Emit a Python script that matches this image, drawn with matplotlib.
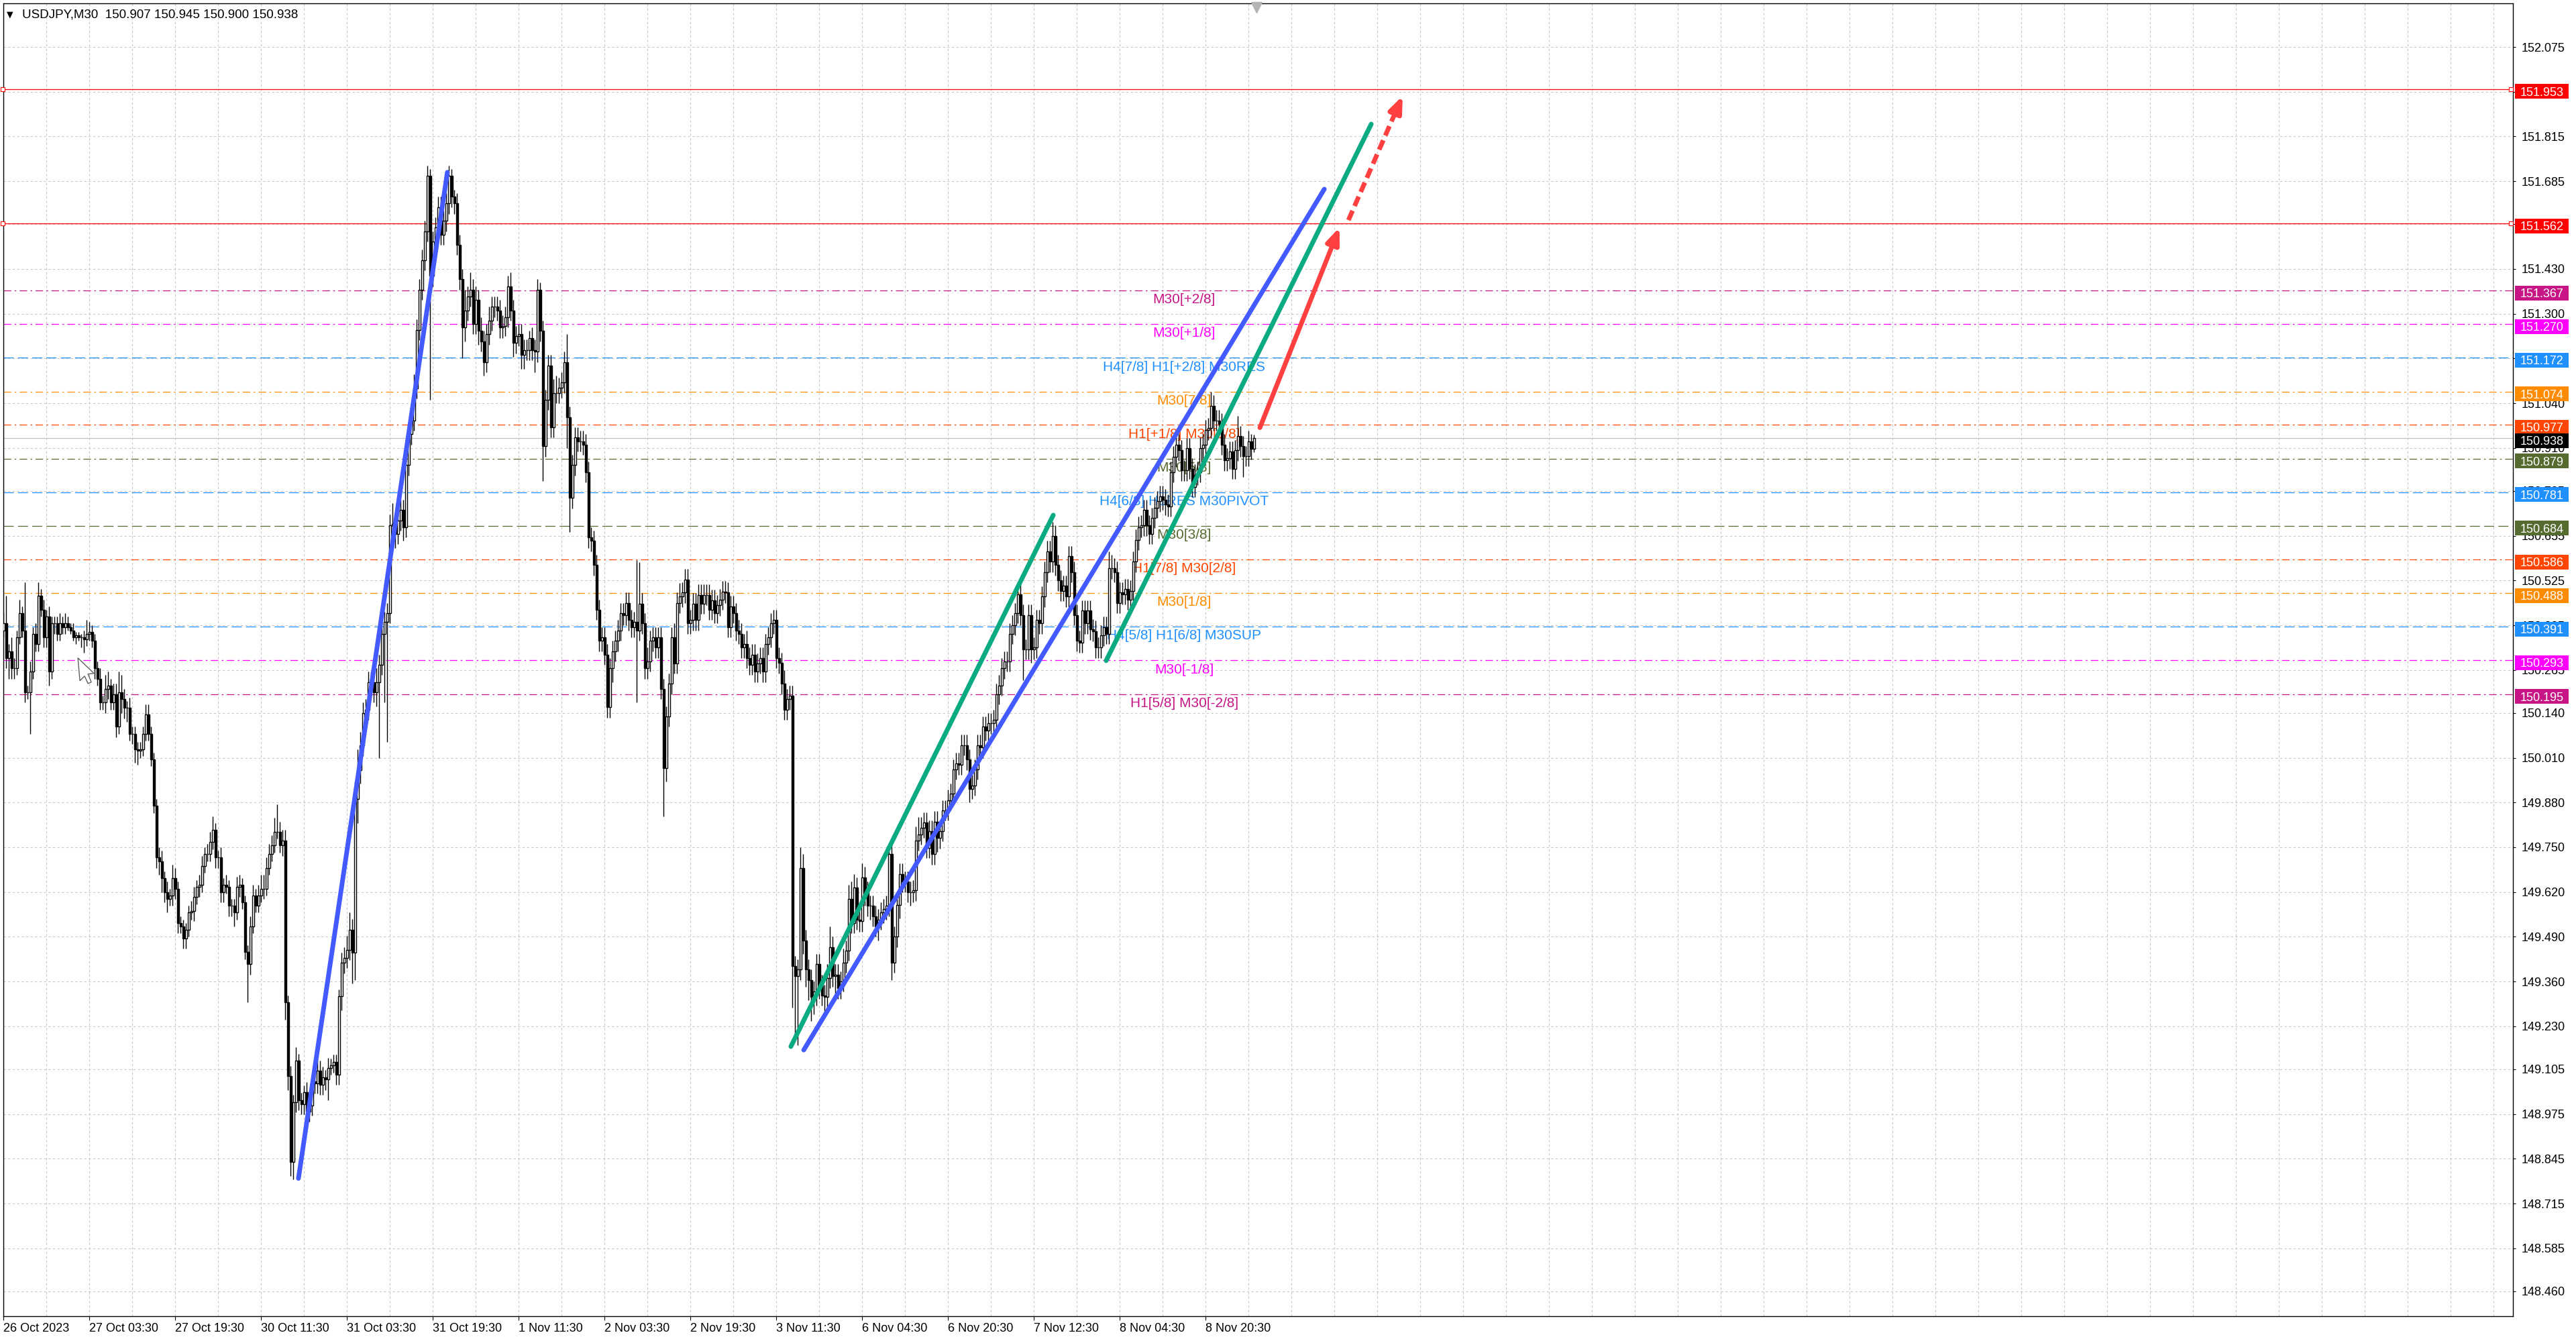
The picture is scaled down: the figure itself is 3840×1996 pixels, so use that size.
import numpy as np
import matplotlib
matplotlib.use('Agg')
import matplotlib.pyplot as plt
from matplotlib.transforms import blended_transform_factory, offset_copy
from matplotlib.patches import Rectangle, Polygon

plt.rcParams['font.family'] = ['Liberation Sans', 'DejaVu Sans']

# USDJPY M30 closes (bars 0..466)
closes_a = [
    150.40, 150.30, 150.32, 150.27, 150.27, 150.36, 150.43, 150.38, 150.20, 150.20,
    150.26, 150.37, 150.34, 150.48, 150.44, 150.36, 150.42, 150.26, 150.40, 150.40,
    150.37, 150.40, 150.39, 150.40, 150.39, 150.38, 150.36, 150.365, 150.36, 150.36,
    150.355, 150.37, 150.375, 150.35, 150.27, 150.24, 150.17, 150.17, 150.21, 150.22,
    150.17, 150.195, 150.10, 150.20, 150.18, 150.155, 150.155, 150.08, 150.08, 150.035,
    150.03, 150.035, 150.08, 150.135, 150.08, 150.005, 149.87, 149.72, 149.71, 149.66,
    149.62, 149.60, 149.61, 149.66, 149.63, 149.53, 149.52, 149.485, 149.51, 149.56,
    149.565, 149.605, 149.635, 149.64, 149.695, 149.73, 149.73, 149.765, 149.80, 149.72,
    149.72, 149.62, 149.64, 149.635, 149.58, 149.58, 149.56, 149.635, 149.64, 149.59,
    149.445, 149.41, 149.52, 149.61, 149.58, 149.61, 149.63, 149.63, 149.69, 149.73,
    149.755, 149.795, 149.795, 149.755, 149.77, 149.30, 149.085, 148.835, 149.01, 149.13,
    149.016, 149.004, 149.038, 148.982, 149.00, 149.07, 149.064, 149.101, 149.06, 149.082,
    149.075, 149.109, 149.116, 149.127, 149.09, 149.317, 149.414, 149.429, 149.452, 149.511, 149.444,
]
closes_b = [
    149.89, 149.975, 150.046, 150.14, 150.15, 150.23, 150.23, 150.20, 150.23, 150.28,
    150.37, 150.405, 150.43, 150.686, 150.69, 150.66, 150.70, 150.73, 150.68, 150.86,
    150.95, 150.99, 151.084, 151.253, 151.37, 151.456, 151.54, 151.70, 151.41, 151.51,
    151.55, 151.61, 151.53, 151.57, 151.62, 151.70, 151.64, 151.62, 151.50, 151.40,
    151.26, 151.31, 151.35, 151.37, 151.27, 151.34, 151.25, 151.22, 151.16, 151.24,
    151.28, 151.32, 151.32, 151.31, 151.26, 151.265, 151.29, 151.38, 151.31, 151.215,
    151.235, 151.24, 151.18, 151.195, 151.195, 151.23, 151.195, 151.19, 151.37, 151.25,
    150.915, 151.05, 151.15, 150.97, 151.07, 151.07, 151.085, 151.10, 151.16, 151.00,
    150.765, 150.86, 150.94, 150.93, 150.93, 150.92, 150.84, 150.65, 150.64, 150.57,
    150.44, 150.35, 150.36, 150.31, 150.157, 150.27, 150.32, 150.35, 150.38, 150.43,
    150.425, 150.46, 150.41, 150.39, 150.405, 150.38,
]
closes_c = [
    150.458, 150.40, 150.27, 150.29, 150.35, 150.36, 150.33, 150.36, 150.21, 149.98,
    150.13, 150.225, 150.36, 150.284, 150.46, 150.478, 150.49, 150.528, 150.40, 150.41,
    150.458, 150.41, 150.483, 150.458, 150.483, 150.483, 150.44, 150.468, 150.43, 150.453,
    150.47, 150.493, 150.49, 150.39, 150.45, 150.43, 150.38, 150.37, 150.33, 150.34,
    150.30, 150.28, 150.31, 150.26, 150.284, 150.30, 150.26, 150.34, 150.36, 150.40,
    150.41, 150.30, 150.285, 150.225, 150.15, 150.18, 150.19, 149.405, 149.375, 149.395,
    149.69, 149.48, 149.395, 149.365, 149.315, 149.33, 149.41, 149.35, 149.32, 149.315,
    149.37, 149.46, 149.375, 149.38, 149.34, 149.36, 149.415, 149.45, 149.60, 149.53,
    149.633, 149.54, 149.535, 149.663, 149.62, 149.58, 149.58, 149.55, 149.52, 149.54,
    149.56, 149.57, 149.58, 149.73, 149.415, 149.49, 149.583, 149.673, 149.65, 149.65,
    149.62, 149.62, 149.625, 149.77, 149.787, 149.807, 149.822, 149.748, 149.797, 149.73,
    149.825, 149.777, 149.797, 149.857, 149.857, 149.887, 149.905,
]
closes_d = [
    149.976, 149.994, 149.99, 150.047, 150.047, 150.005, 149.92, 149.93, 149.976, 150.047,
    150.04, 150.10, 150.09, 150.11, 150.11, 150.12, 150.195, 150.22, 150.27, 150.29,
    150.29, 150.37, 150.395, 150.43, 150.484, 150.425, 150.325, 150.325, 150.425, 150.325,
    150.33, 150.41, 150.40, 150.478, 150.55, 150.61, 150.58, 150.655, 150.57, 150.525,
    150.495, 150.51, 150.478, 150.595, 150.55, 150.425, 150.35, 150.345, 150.437, 150.40,
    150.437, 150.383, 150.378, 150.33, 150.33, 150.365, 150.39, 150.37, 150.56, 150.56,
    150.55, 150.46, 150.49, 150.485, 150.50, 150.47, 150.495, 150.58, 150.643, 150.68,
    150.685, 150.73, 150.685, 150.66, 150.707, 150.737, 150.755, 150.77, 150.76, 150.745,
    150.74, 150.84, 150.885, 150.92, 150.903, 150.845, 150.845, 150.909, 150.85, 150.797,
    150.832, 150.84, 150.91, 150.92, 150.962, 150.968, 151.033, 150.99, 150.99, 150.98,
    150.92, 150.874, 150.88, 150.90, 150.85, 150.903, 150.944, 150.915, 150.886, 150.886,
    150.93, 150.907, 150.938,
]
first_open = 150.38

# upper / lower wick lengths in pips (0.01)
up_a = [
    3, 8, 2, 4, 3, 2, 4, 2, 14, 2, 3, 2, 3, 4, 2, 3, 2, 3, 2, 2,
    2, 3, 2, 3, 2, 1, 2, 1, 1, 1, 2, 4, 3, 2, 2, 2, 3, 2, 4, 4,
    2, 3, 3, 6, 5, 3, 2, 3, 2, 2, 2, 2, 2, 3, 3, 2, 2, 2, 3, 3,
    2, 3, 2, 4, 3, 2, 2, 2, 2, 2, 3, 3, 2, 3, 3, 2, 3, 3, 4, 2,
    2, 3, 2, 3, 2, 2, 2, 3, 3, 2, 2, 2, 3, 3, 2, 3, 4, 4, 3, 3,
    3, 4, 8, 3, 3, 3, 2, 3, 2, 4, 2, 2, 2, 3, 2, 2, 3, 3, 3, 3,
    2, 3, 2, 2, 2, 2, 3, 3, 4, 5, 3,
]
dn_a = [
    2, 3, 6, 3, 3, 2, 2, 2, 3, 2, 12, 2, 2, 2, 2, 3, 3, 4, 2, 3,
    2, 2, 2, 2, 1, 1, 1, 2, 1, 3, 4, 2, 2, 2, 3, 2, 2, 2, 3, 3,
    2, 2, 3, 2, 4, 3, 4, 2, 3, 4, 4, 2, 2, 2, 2, 2, 2, 3, 4, 4,
    3, 4, 2, 3, 3, 3, 2, 3, 3, 2, 2, 3, 2, 3, 2, 2, 2, 2, 2, 3,
    3, 3, 3, 2, 3, 3, 4, 2, 3, 2, 2, 11, 3, 2, 2, 2, 2, 3, 2, 2,
    2, 2, 2, 2, 3, 5, 4, 4, 5, 3, 3, 3, 3, 4, 3, 3, 3, 3, 3, 3,
    3, 6, 2, 2, 3, 3, 4, 3, 3, 3, 9,
]
up_b = [
    5, 6, 4, 3, 3, 3, 3, 3, 4, 3, 3, 3, 3, 3, 6, 3, 3, 3, 3, 3,
    3, 3, 4, 3, 3, 3, 3, 3, 2, 3, 3, 3, 3, 3, 3, 3, 2, 2, 3, 3,
    3, 6, 3, 5, 3, 4, 3, 4, 3, 3, 4, 3, 3, 3, 3, 3, 3, 3, 4, 3,
    3, 3, 3, 3, 3, 2, 3, 3, 3, 2, 3, 3, 3, 3, 4, 5, 3, 3, 3, 8,
    3, 3, 3, 3, 3, 3, 3, 3, 3, 3, 3, 3, 3, 3, 3, 3, 3, 3, 3, 3,
    3, 3, 3, 3, 3, 18,
]
dn_b = [
    8, 7, 4, 3, 3, 3, 3, 3, 4, 22, 3, 20, 35, 3, 3, 4, 3, 3, 4, 3,
    3, 3, 3, 3, 3, 3, 3, 3, 36, 3, 3, 3, 3, 3, 3, 3, 3, 3, 3, 3,
    9, 4, 3, 3, 3, 3, 4, 3, 4, 3, 3, 3, 3, 3, 3, 3, 3, 3, 3, 4,
    3, 3, 4, 4, 3, 3, 3, 6, 3, 3, 10, 3, 3, 3, 3, 3, 3, 3, 3, 9,
    10, 3, 3, 3, 3, 3, 3, 3, 3, 3, 3, 3, 3, 3, 3, 3, 4, 3, 3, 3,
    3, 3, 3, 3, 3, 21,
]
up_c = [
    12, 3, 3, 4, 3, 3, 3, 3, 3, 3, 3, 3, 3, 4, 3, 4, 3, 3, 3, 3,
    3, 3, 3, 3, 3, 3, 3, 3, 3, 3, 3, 3, 3, 3, 3, 3, 3, 3, 3, 3,
    4, 3, 3, 3, 3, 3, 3, 3, 3, 3, 3, 3, 3, 3, 4, 3, 3, 3, 3, 3,
    6, 4, 3, 3, 3, 3, 3, 3, 3, 3, 4, 6, 3, 3, 3, 3, 4, 3, 4, 5,
    4, 3, 3, 4, 3, 3, 3, 3, 3, 3, 3, 3, 3, 3, 3, 3, 3, 3, 3, 3,
    3, 3, 3, 4, 5, 3, 3, 3, 3, 3, 3, 3, 3, 3, 3, 3, 3,
]
dn_c = [
    3, 3, 3, 3, 3, 3, 3, 3, 3, 14, 4, 3, 3, 3, 3, 3, 3, 3, 3, 3,
    3, 3, 3, 3, 3, 3, 3, 3, 3, 3, 3, 3, 3, 3, 3, 3, 3, 3, 3, 3,
    3, 3, 3, 3, 3, 3, 3, 3, 3, 3, 3, 3, 3, 3, 3, 3, 3, 12, 19, 20,
    3, 4, 5, 6, 7, 5, 4, 4, 3, 4, 3, 3, 3, 5, 3, 3, 3, 3, 3, 3,
    3, 3, 3, 3, 4, 3, 4, 3, 3, 4, 3, 3, 3, 3, 5, 3, 3, 4, 3, 3,
    3, 4, 3, 3, 3, 3, 3, 3, 3, 3, 3, 4, 3, 3, 3, 3, 3,
]
up_d = [
    3, 3, 3, 3, 3, 3, 3, 3, 3, 3, 3, 3, 3, 3, 3, 3, 3, 3, 3, 3,
    3, 3, 3, 3, 3, 3, 3, 3, 3, 3, 3, 3, 3, 3, 3, 3, 3, 4, 3, 3,
    3, 3, 3, 3, 3, 3, 3, 3, 3, 3, 3, 3, 3, 3, 3, 3, 3, 3, 5, 4,
    3, 3, 3, 3, 3, 3, 3, 3, 3, 3, 3, 3, 3, 3, 3, 3, 3, 3, 3, 3,
    3, 3, 3, 3, 3, 3, 3, 3, 3, 3, 3, 3, 3, 3, 3, 3, 4, 3, 3, 3,
    3, 3, 3, 3, 3, 3, 6, 3, 3, 3, 3, 2, 1,
]
dn_d = [
    3, 3, 3, 3, 3, 3, 4, 3, 3, 3, 3, 3, 3, 3, 3, 3, 3, 3, 3, 3,
    3, 3, 3, 3, 3, 3, 9, 3, 3, 4, 3, 3, 3, 3, 3, 3, 3, 3, 3, 3,
    3, 3, 3, 3, 3, 3, 3, 3, 3, 3, 3, 3, 3, 3, 3, 3, 3, 3, 3, 3,
    3, 3, 3, 3, 3, 3, 3, 3, 3, 3, 3, 3, 3, 3, 3, 3, 3, 3, 3, 3,
    3, 3, 3, 3, 3, 3, 3, 3, 3, 3, 3, 3, 3, 3, 3, 3, 3, 3, 3, 3,
    3, 3, 3, 3, 3, 3, 3, 3, 6, 3, 3, 3, 1,
]

# murrey levels (price, middle text, colour, dashed?)
level_prices = [151.367, 151.270, 151.172, 151.074, 150.977, 150.879, 150.781,
                150.684, 150.586, 150.488, 150.391, 150.293, 150.195]
level_names = ['M30[+2/8]', 'M30[+1/8]', 'H4[7/8] H1[+2/8] M30RES', 'M30[7/8]',
               'H1[+1/8] M30[6/8]', 'M30[5/8]', 'H4[6/8] H1RES M30PIVOT', 'M30[3/8]',
               'H1[7/8] M30[2/8]', 'M30[1/8]', 'H4[5/8] H1[6/8] M30SUP', 'M30[-1/8]',
               'H1[5/8] M30[-2/8]']
level_colors = ['#C71585', '#FF00FF', '#1E90FF', '#FF8C00', '#FF4500', '#556B2F', '#1E90FF',
                '#556B2F', '#FF4500', '#FF8C00', '#1E90FF', '#FF00FF', '#C71585']
level_dashed = [False, False, True, False, False, False, True, True, False, False, True, False, False]
red_levels = [151.953, 151.562]
last_price = 150.938

ytick_vals = [152.075, 151.945, 151.815, 151.685, 151.560, 151.430, 151.300, 151.170, 151.040,
              150.910, 150.785, 150.655, 150.525, 150.395, 150.265, 150.140, 150.010, 149.880,
              149.750, 149.620, 149.490, 149.360, 149.230, 149.105, 148.975, 148.845, 148.715,
              148.585, 148.460]
xtick_bars = [0, 32, 64, 96, 128, 160, 192, 224, 256, 288, 320, 352, 384, 416, 448]
xtick_labels = ['26 Oct 2023', '27 Oct 03:30', '27 Oct 19:30', '30 Oct 11:30', '31 Oct 03:30',
                '31 Oct 19:30', '1 Nov 11:30', '2 Nov 03:30', '2 Nov 19:30', '3 Nov 11:30',
                '6 Nov 04:30', '6 Nov 20:30', '7 Nov 12:30', '8 Nov 04:30', '8 Nov 20:30']

# drawn objects: (bar, price) end points
blue_lines = [((109.9, 148.788), (165.4, 151.711)), ((298.2, 149.161), (492.2, 151.662))]
green_lines = [((293.4, 149.171), (391.2, 150.715)), ((410.9, 150.292), (509.7, 151.851))]
red_arrow = ((468.2, 150.969), (497.9, 151.551))
red_dash_arrow = ((501.2, 151.572), (521.4, 151.933))
cursor_at = (27.7, 150.3)

# ---- build candles
closes = np.array(closes_a + closes_b + closes_c + closes_d)
opens = np.concatenate([[first_open], closes[:-1]])
up = np.array(up_a + up_b + up_c + up_d) * 0.01
dn = np.array(dn_a + dn_b + dn_c + dn_d) * 0.01
highs = np.maximum(opens, closes) + up
lows = np.minimum(opens, closes) - dn
x = np.arange(len(closes))

W, H = 3840, 1996
PX = 513.1  # pixels per yen
fig = plt.figure(figsize=(W / 100, H / 100), dpi=100, facecolor='white')
ax = fig.add_axes([5 / W, 1 - 1962 / H, 3741 / W, 1957 / H])
ax.set_xlim(-0.075, 935.175)
ax.set_ylim(148.3877, 152.2017)

# grid
for b in range(0, 936, 16):
    ax.axvline(b, color='#C8C8C8', lw=0.8, ls=(0, (3, 3)), zorder=0)
for p in ytick_vals:
    ax.axhline(p, color='#C8C8C8', lw=0.8, ls=(0, (3, 3)), zorder=0)

# levels
for p, name, c, d in zip(level_prices, level_names, level_colors, level_dashed):
    ls = (0, (12, 5)) if d else (0, (9, 4, 2, 4))
    ax.axhline(p, color=c, lw=0.9, ls=ls, zorder=1)
    ax.annotate(name, (440, p), xytext=(0, -3), textcoords='offset points',
                ha='center', va='top', fontsize=15, color=c, zorder=2)
for p in red_levels:
    ax.axhline(p, color='#FF0000', lw=0.9, zorder=1)
    ax.plot([-0.3, 934.4], [p, p], ls='none', marker='s', ms=4, mfc='white',
            mec='#FF0000', mew=0.8, clip_on=False, zorder=6)
ax.axhline(last_price, color='#C0C0C0', lw=0.9, zorder=1)

# candles
bull = closes >= opens
ax.vlines(x, lows, highs, color='black', lw=1.0, zorder=4)
bot = np.minimum(opens, closes)
hgt = np.abs(closes - opens)
ax.bar(x[bull], hgt[bull], bottom=bot[bull], width=0.62, color='white',
       edgecolor='black', lw=1.0, zorder=5)
ax.bar(x[~bull], hgt[~bull], bottom=bot[~bull], width=0.62, color='black',
       edgecolor='black', lw=1.0, zorder=5)

# trend lines and arrows
for (a, b) in blue_lines:
    ax.plot([a[0], b[0]], [a[1], b[1]], color='#425AFF', lw=5, solid_capstyle='round', zorder=7)
for (a, b) in green_lines:
    ax.plot([a[0], b[0]], [a[1], b[1]], color='#0AAA82', lw=5, solid_capstyle='round', zorder=7)
red = '#FF4040'
(s0, s1) = red_arrow
ax.annotate('', xy=s1, xytext=s0, zorder=8,
            arrowprops=dict(arrowstyle='-|>,head_length=0.8,head_width=0.32', color=red,
                            lw=5, mutation_scale=18, shrinkA=0, shrinkB=0, capstyle='round'))
(d0, d1) = red_dash_arrow
mid = (d0[0] + (d1[0] - d0[0]) * 0.85, d0[1] + (d1[1] - d0[1]) * 0.85)
ax.plot([d0[0], mid[0]], [d0[1], mid[1]], color=red, lw=5, dashes=(2.2, 1.1),
        dash_capstyle='butt', zorder=8)
ax.annotate('', xy=d1, xytext=mid, zorder=8,
            arrowprops=dict(arrowstyle='-|>,head_length=0.8,head_width=0.32', color=red,
                            lw=5, mutation_scale=18, shrinkA=0, shrinkB=0))

# chart shift marker
ax.plot([467], [152.19], marker='v', ms=11, color='#B4B4B4', clip_on=False, zorder=9)

# mouse cursor (outline arrow, tip at cursor_at)
cur = [(0, 0), (24, -23), (15, -24), (20, -36), (15, -38), (10, -27), (3, -34)]
tip_tr = offset_copy(ax.transData, fig=fig, x=0, y=0, units='dots')
tx, ty = ax.transData.transform(cursor_at)
ax.add_patch(Polygon([(tx + dx, ty + dy) for dx, dy in cur], closed=True, transform=None,
                     facecolor='white', edgecolor='#606060', lw=1.0, zorder=9))

# axes / ticks
for s in ax.spines.values():
    s.set_color('black')
    s.set_linewidth(1.0)
ax.yaxis.tick_right()
ax.set_yticks(ytick_vals)
ax.set_yticklabels(['%.3f' % v for v in ytick_vals])
ax.tick_params(axis='y', length=3, width=0.8, pad=6, labelsize=13, colors='black')
ax.set_xticks(xtick_bars)
ax.set_xticklabels(xtick_labels, ha='left')
ax.tick_params(axis='x', length=4, width=0.8, pad=3, labelsize=13, colors='black')

# coloured price labels on the right scale
tr = blended_transform_factory(fig.transFigure, ax.transData)
half = 11 / PX
shift = 3.5 / PX
box_prices = red_levels + level_prices + [last_price]
box_colors = ['#FF0000', '#FF0000'] + level_colors + ['black']
for p, c in zip(box_prices, box_colors):
    ax.add_patch(Rectangle((3749 / W, p - shift - half), 80 / W, 2 * half, transform=tr,
                           facecolor=c, edgecolor='none', clip_on=False, zorder=10))
    ax.text(3757 / W, p - shift, '%.3f' % p, transform=tr, color='white', fontsize=13,
            va='center_baseline', ha='left', clip_on=False, zorder=11)

# header
fig.text(10 / W, 1 - 22 / H, '\u25bc', fontsize=9, va='center', family='DejaVu Sans')
fig.text(33 / W, 1 - 22 / H, 'USDJPY,M30  150.907 150.945 150.900 150.938',
         fontsize=13.5, va='center')

fig.savefig('out.png', dpi=100, facecolor='white')
